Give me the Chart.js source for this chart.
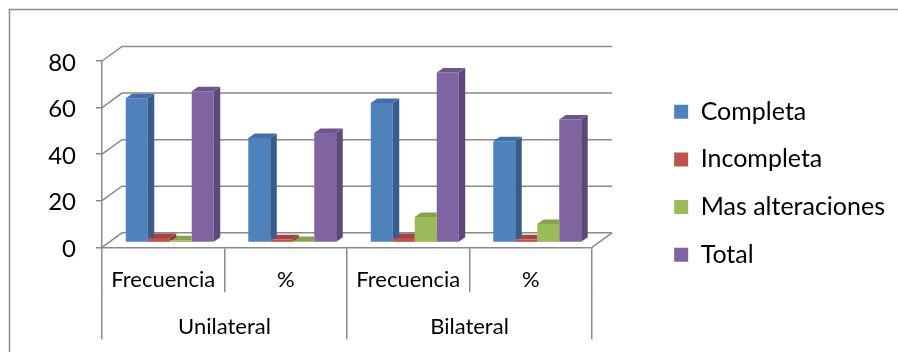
<!DOCTYPE html>
<html>
<head>
<meta charset="utf-8">
<script src="https://cdn.jsdelivr.net/npm/chart.js@4.4.1/dist/chart.umd.min.js"></script>
<style>
  html, body { margin: 0; padding: 0; background: #ffffff; }
  #wrap { width: 898px; height: 352px; position: relative; }
</style>
</head>
<body>
<div id="wrap"><canvas id="chart" width="898" height="352"></canvas></div>
<script>
// Categories: measure within each side, then the side groups
const measures = ['Frecuencia', '%', 'Frecuencia', '%'];
const sides = ['Unilateral', 'Bilateral'];
const yTicks = [0, 20, 40, 60, 80];

// Series values (counts and percentages of 138 cases)
const seriesNames = ['Completa', 'Incompleta', 'Mas alteraciones', 'Total'];
const completa = [62, 44.9, 60, 43.5];
const incompleta = [2, 1.4, 2, 1.4];
const masAlteraciones = [1, 0.7, 11, 8.0];
const total = [65, 47.1, 73, 52.9];

// Face colours: front, side, top
const shades = [
  { front: '#4F81BD', side: '#385D8A', top: '#426FA7' },
  { front: '#C0504D', side: '#8E3B39', top: '#A54542' },
  { front: '#9BBB59', side: '#728A41', top: '#86A24C' },
  { front: '#8064A2', side: '#5D4978', top: '#6D568C' }
];

const LINE = '#8a8a8a';
const WALL = { dx: 20, dy: -14.5 };      // back wall offset from the front plane
const ROW = { dx: 6.5, dy: -4.7 };       // where the bar row sits in depth
const BAR_DEPTH = { dx: 6.5, dy: -4.5 }; // thickness of each bar
const PLOT_RIGHT = 592;                  // right edge of the front plane
const LEGEND_FONT = { size: 25, family: 'Lato' };
const LEGEND_BOX = 14, LEGEND_PAD = 22.7, RIGHT_PAD = 3;

Chart.defaults.font.family = 'Lato';
Chart.defaults.color = '#000';

// Draws the frame, the walls/floor and the side and top faces of the bars
const box3d = {
  id: 'box3d',
  beforeDraw(chart) {
    const { ctx } = chart;
    ctx.save();
    ctx.strokeStyle = LINE;
    ctx.lineWidth = 1.5;
    ctx.strokeRect(9.5, 9.5, chart.width + 20, chart.height + 20);
    ctx.restore();
  },
  beforeDatasetsDraw(chart) {
    const { ctx, chartArea: a, scales: { y } } = chart;
    ctx.save();
    ctx.strokeStyle = LINE;
    ctx.lineWidth = 1.5;
    ctx.beginPath();
    yTicks.forEach(v => {
      const py = y.getPixelForValue(v);
      ctx.moveTo(a.left, py);
      ctx.lineTo(a.left + WALL.dx, py + WALL.dy);
      ctx.lineTo(a.right + WALL.dx, py + WALL.dy);
    });
    const p0 = y.getPixelForValue(0);
    ctx.moveTo(a.right, p0);
    ctx.lineTo(a.right + WALL.dx, p0 + WALL.dy);
    ctx.stroke();
    ctx.restore();
    // bars sit a little behind the front plane
    ctx.save();
    ctx.translate(ROW.dx, ROW.dy);
  },
  afterDatasetDraw(chart, args) {
    const { ctx } = chart;
    const shade = shades[args.index];
    const nextMeta = args.index + 1 < chart.data.datasets.length ? chart.getDatasetMeta(args.index + 1) : null;
    const dx = BAR_DEPTH.dx, dy = BAR_DEPTH.dy;
    args.meta.data.forEach((bar, i) => {
      const { x, y, base, width } = bar.getProps(['x', 'y', 'base', 'width'], true);
      const l = x - width / 2, r = x + width / 2;
      const top = Math.min(y, base), bottom = Math.max(y, base);
      ctx.save();
      if (nextMeta) {
        // the neighbouring bar's front face hides this bar's right side
        const n = nextMeta.data[i].getProps(['x', 'y', 'base', 'width'], true);
        const nt = Math.min(n.y, n.base), nb = Math.max(n.y, n.base);
        ctx.beginPath();
        ctx.rect(-5000, -5000, 10000, 10000);
        ctx.rect(n.x - n.width / 2, nt, n.width, nb - nt);
        ctx.clip('evenodd');
      }
      ctx.fillStyle = shade.side;
      ctx.beginPath();
      ctx.moveTo(r, top);
      ctx.lineTo(r + dx, top + dy);
      ctx.lineTo(r + dx, bottom + dy);
      ctx.lineTo(r, bottom);
      ctx.closePath();
      ctx.fill();
      ctx.fillStyle = shade.top;
      ctx.beginPath();
      ctx.moveTo(l, top);
      ctx.lineTo(r, top);
      ctx.lineTo(r + dx, top + dy);
      ctx.lineTo(l + dx, top + dy);
      ctx.closePath();
      ctx.fill();
      ctx.restore();
    });
  },
  afterDatasetsDraw(chart) {
    chart.ctx.restore();
  }
};

const values = [completa, incompleta, masAlteraciones, total];

new Chart(document.getElementById('chart'), {
  type: 'bar',
  data: {
    labels: measures,
    datasets: values.map((data, k) => ({
      label: seriesNames[k],
      data,
      backgroundColor: shades[k].front,
      borderWidth: 0,
      categoryPercentage: 0.718,
      barPercentage: 1,
      clip: false,
      xAxisID: 'x',
      yAxisID: 'y'
    }))
  },
  options: {
    responsive: false,
    animation: false,
    events: [],
    layout: { padding: { left: 0, top: 61, right: RIGHT_PAD, bottom: 0 } },
    plugins: {
      legend: {
        position: 'right',
        align: 'start',
        maxWidth: 340,
        title: { display: true, text: '', font: { size: 11 }, padding: { top: 0, bottom: 2.3 } },
        labels: {
          boxWidth: LEGEND_BOX,
          boxHeight: LEGEND_BOX,
          padding: LEGEND_PAD,
          color: '#000',
          font: LEGEND_FONT
        }
      },
      tooltip: { enabled: false }
    },
    scales: {
      x: {
        type: 'category',
        position: 'bottom',
        weight: 0,
        offset: true,
        grid: {
          offset: true,
          drawOnChartArea: false,
          drawTicks: true,
          tickLength: 45,
          color: LINE,
          lineWidth: 1.5
        },
        border: { display: true, color: LINE, width: 1.5 },
        ticks: {
          maxRotation: 0,
          autoSkip: false,
          padding: -26,
          color: '#000',
          font: { size: 22, family: 'Lato' }
        },
        afterFit(s) { s.height = 45; }
      },
      x2: {
        type: 'category',
        labels: sides,
        position: 'bottom',
        weight: 1,
        offset: true,
        grid: {
          offset: true,
          drawOnChartArea: false,
          drawTicks: true,
          tickLength: 47,
          color: LINE,
          lineWidth: 1.5
        },
        border: { display: false },
        ticks: {
          maxRotation: 0,
          autoSkip: false,
          padding: -26,
          color: '#000',
          font: { size: 22, family: 'Lato' }
        },
        afterFit(s) { s.height = 59.7; }
      },
      y: {
        position: 'left',
        min: 0,
        max: 80,
        afterBuildTicks(s) { s.ticks = yTicks.map(v => ({ value: v })); },
        grid: {
          drawOnChartArea: false,
          drawTicks: true,
          tickLength: 6,
          color: LINE,
          lineWidth: 1.5
        },
        border: { display: true, color: LINE, width: 1.5 },
        ticks: {
          padding: 20,
          labelOffset: 2,
          color: '#000',
          font: { size: 24, family: 'Lato' }
        },
        afterFit(s) { s.width = 102; }
      },
      gap: {
        type: 'linear',
        position: 'right',
        weight: 0,
        display: true,
        grid: { display: false, drawTicks: false },
        border: { display: false },
        ticks: { display: false },
        afterFit(s) {
          // space between the floor and the legend column
          const ctx = s.ctx;
          ctx.save();
          ctx.font = LEGEND_FONT.size + 'px ' + LEGEND_FONT.family;
          const tw = Math.max(...seriesNames.map(t => ctx.measureText(t).width));
          ctx.restore();
          const legendW = LEGEND_PAD + LEGEND_BOX + LEGEND_FONT.size / 2 + tw + 10;
          s.width = s.chart.width - RIGHT_PAD - legendW - PLOT_RIGHT;
        }
      }
    }
  },
  plugins: [box3d]
});
</script>
</body>
</html>
